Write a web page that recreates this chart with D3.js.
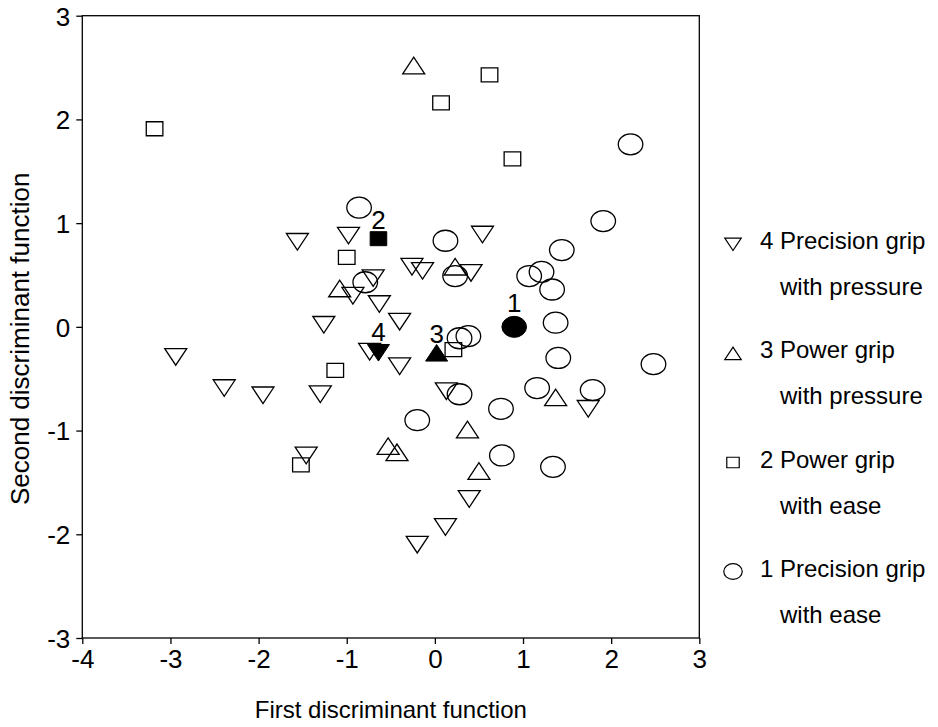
<!DOCTYPE html>
<html>
<head>
<meta charset="utf-8">
<script src="https://cdn.jsdelivr.net/npm/d3@7"></script>
<style>
	body { margin: 0; background: #fff; }
	svg text { font-family: "Liberation Sans", Arial, sans-serif; fill: #000; }
</style>
</head>
<body>
<svg id="chart" width="938" height="727"></svg>
<script>
// 1 Precision grip with ease (open circles)
let precisionEase = [
	[-0.86, 1.15], [-0.79, 0.43], [0.12, 0.83], [0.23, 0.49], [2.22, 1.76], [1.91, 1.02],
	[1.44, 0.74], [1.07, 0.49], [1.21, 0.53], [1.33, 0.36], [1.37, 0.04], [0.28, -0.11],
	[0.38, -0.09], [1.40, -0.30], [0.28, -0.65], [1.16, -0.59], [1.79, -0.61], [0.75, -0.79],
	[0.76, -1.24], [1.34, -1.35], [2.48, -0.36], [-0.20, -0.90]
];
// 2 Power grip with ease (open squares)
let powerEase = [
	[-3.18, 1.91], [0.07, 2.16], [0.62, 2.43], [0.88, 1.62], [-1.00, 0.67], [0.21, -0.22],
	[-1.13, -0.42], [-1.52, -1.33]
];
// 3 Power grip with pressure (up triangles)
let powerPressure = [
	[-0.24, 2.52], [-1.08, 0.37], [0.23, 0.58], [1.37, -0.68], [0.37, -0.99], [0.50, -1.39],
	[-0.53, -1.15], [-0.43, -1.21]
];
// 4 Precision grip with pressure (down triangles)
let precisionPressure = [
	[-1.56, 0.82], [-0.98, 0.88], [-0.93, 0.30], [-0.70, 0.47], [-0.63, 0.22], [-0.26, 0.58],
	[-0.14, 0.54], [0.41, 0.52], [0.54, 0.89], [-1.26, 0.02], [-0.40, 0.05], [-2.94, -0.29],
	[-2.39, -0.59], [-1.95, -0.66], [-1.30, -0.65], [-0.74, -0.24], [-0.40, -0.38], [0.13, -0.62],
	[1.74, -0.79], [-1.46, -1.24], [0.39, -1.66], [0.12, -1.93], [-0.20, -2.10]
];
// group centroids (filled marks) and their labels
let centroids = [[0.90, 0.00], [-0.64, 0.85], [0.02, -0.25], [-0.64, -0.25]];
let centroidLabels = ['1', '2', '3', '4'];

let xTicks = [-4, -3, -2, -1, 0, 1, 2, 3];
let yTicks = [-3, -2, -1, 0, 1, 2, 3];
let legendLabels = [
	['4 Precision grip', 'with pressure'],
	['3 Power grip', 'with pressure'],
	['2 Power grip', 'with ease'],
	['1 Precision grip', 'with ease']
];

!(function(){
	"use strict";

	let svg = d3.select('#chart'),
		left = 82.3, right = 699.3, top = 15.7, bottom = 638,
		x = d3.scaleLinear().domain([-4, 3]).range([left, right]),
		y = d3.scaleLinear().domain([-3, 3]).range([bottom, top]),
		tickPx = 26,
		fontPx = 24;

	// marker outlines, centred on the box centre
	let shape = (kind, s) => {
		s = s || 1;
		let w = 22 * s, h = 16.6 * s;
		if (kind === 'down') return `M${-w/2},${-h/2}L${w/2},${-h/2}L0,${h/2}Z`;
		if (kind === 'up') return `M${-w/2},${h/2}L${w/2},${h/2}L0,${-h/2}Z`;
		if (kind === 'square') { let a = 8.3 * s, b = 7 * s; return `M${-a},${-b}H${a}V${b}H${-a}Z`; }
		let rx = 12.3 * s, ry = 10.5 * s;
		return `M${-rx},0A${rx},${ry} 0 1,0 ${rx},0A${rx},${ry} 0 1,0 ${-rx},0Z`;
	};
	let labelGap = {circle: 15, square: 10, up: 10, down: 11.5};

	// frame
	svg.append('rect')
		.attr('x', left).attr('y', top)
		.attr('width', right - left).attr('height', bottom - top)
		.attr('fill', 'none').attr('stroke', '#000').attr('stroke-width', 1.3);

	let xAxis = svg.append('g')
		.attr('transform', `translate(0,${bottom})`)
		.call(d3.axisBottom(x).tickValues(xTicks).tickSize(6).tickSizeOuter(0).tickPadding(6).tickFormat((d) => String(d)));
	let yAxis = svg.append('g')
		.attr('transform', `translate(${left},0)`)
		.call(d3.axisLeft(y).tickValues(yTicks).tickSize(6).tickSizeOuter(0).tickPadding(6).tickFormat((d) => String(d)));
	[xAxis, yAxis].forEach((g) => {
		g.select('.domain').remove();
		g.selectAll('line').attr('stroke', '#000').attr('stroke-width', 1.3);
		g.selectAll('text').attr('font-size', tickPx).attr('font-family', null).attr('fill', '#000');
	});
	yAxis.selectAll('text').attr('dy', '0.36em');

	// axis titles
	svg.append('text')
		.attr('x', (left + right) / 2).attr('y', 718)
		.attr('text-anchor', 'middle').attr('font-size', fontPx)
		.text('First discriminant function');
	svg.append('text')
		.attr('transform', `translate(29,${(top + bottom) / 2 + 12}) rotate(-90)`)
		.attr('text-anchor', 'middle').attr('font-size', 26)
		.text('Second discriminant function');

	let groups = [
		{data: precisionEase, kind: 'circle'},
		{data: powerEase, kind: 'square'},
		{data: powerPressure, kind: 'up'},
		{data: precisionPressure, kind: 'down'}
	];
	let kinds = ['circle', 'square', 'up', 'down'];

	groups.forEach((grp) => {
		svg.append('g').selectAll('path')
			.data(grp.data)
			.enter()
			.append('path')
			.attr('d', shape(grp.kind))
			.attr('transform', (d) => `translate(${x(d[0])},${y(d[1])})`)
			.attr('fill', 'none')
			.attr('stroke', '#000')
			.attr('stroke-width', 1.3);
	});

	// centroids
	svg.append('g').selectAll('path')
		.data(centroids)
		.enter()
		.append('path')
		.attr('d', (d, i) => shape(kinds[i]))
		.attr('transform', (d) => `translate(${x(d[0])},${y(d[1])})`)
		.attr('fill', '#000')
		.attr('stroke', '#000');
	svg.append('g').selectAll('text')
		.data(centroids)
		.enter()
		.append('text')
		.attr('x', (d) => x(d[0]))
		.attr('y', (d, i) => y(d[1]) - labelGap[kinds[i]])
		.attr('text-anchor', 'middle')
		.attr('font-size', tickPx)
		.text((d, i) => centroidLabels[i]);

	// legend
	let legendKinds = ['down', 'up', 'square', 'circle'],
		leg = svg.append('g').selectAll('g')
			.data(legendLabels)
			.enter()
			.append('g')
			.attr('transform', (d, i) => `translate(0,${249.3 + i * 109.1})`);
	leg.append('path')
		.attr('d', (d, i) => shape(legendKinds[i], 0.75))
		.attr('transform', 'translate(733,-5)')
		.attr('fill', 'none')
		.attr('stroke', '#000')
		.attr('stroke-width', 1.2);
	leg.append('text')
		.attr('x', 760).attr('y', 0)
		.attr('font-size', fontPx)
		.text((d) => d[0]);
	leg.append('text')
		.attr('x', 780).attr('y', 46)
		.attr('font-size', fontPx)
		.text((d) => d[1]);
}());
</script>
</body>
</html>
